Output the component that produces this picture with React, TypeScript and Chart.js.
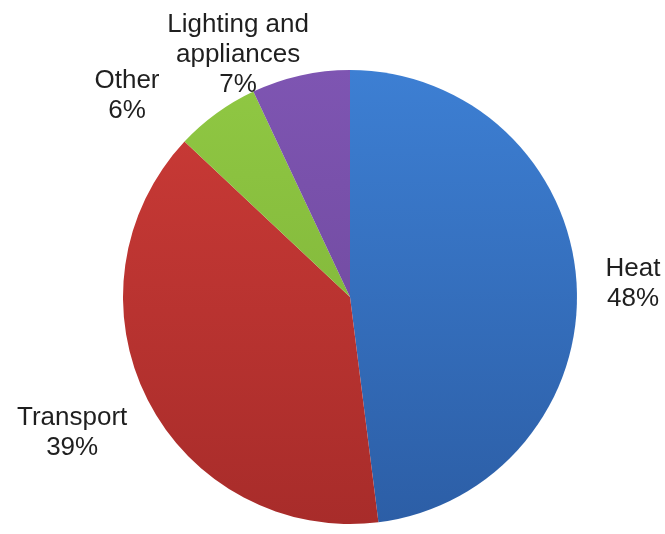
import React, { useEffect, useRef } from "react";
import { Chart, registerables } from "chart.js";

Chart.register(...registerables);

const categories = ["Heat", "Transport", "Other", "Lighting and appliances"];
const shares = [48, 39, 6, 7];
const labelLines = [["Heat"], ["Transport"], ["Other"], ["Lighting and", "appliances"]];
const topColors = ["#3d7fd3", "#cc3b37", "#90c843", "#7e55b2"];
const bottomColors = ["#2c5ea6", "#a82c2a", "#7aae36", "#6a4596"];

// label placement relative to each slice: angular shift (deg) and radius factor
const labelShift = [1, 0.9, -12, -12.2];
const labelRadius = [1.248, 1.363, 1.322, 1.175];

const outsideLabels = {
  id: "outsideLabels",
  afterDatasetsDraw(chart: any) {
    const ctx = chart.ctx;
    const meta = chart.getDatasetMeta(0);
    ctx.save();
    ctx.font = '26px "Liberation Sans", Arial, sans-serif';
    ctx.fillStyle = "#1f1f1f";
    ctx.textAlign = "center";
    ctx.textBaseline = "middle";
    const lineH = 30;
    meta.data.forEach((arc: any, i: number) => {
      const p = arc.getProps(["x", "y", "startAngle", "endAngle", "outerRadius"], true);
      const a = (p.startAngle + p.endAngle) / 2 + (labelShift[i] * Math.PI) / 180;
      const r = p.outerRadius * labelRadius[i];
      const cx = p.x + Math.cos(a) * r;
      const cy = p.y + Math.sin(a) * r;
      const lines = [...labelLines[i], shares[i] + "%"];
      const y0 = cy - ((lines.length - 1) * lineH) / 2;
      lines.forEach((t, k) => ctx.fillText(t, cx, y0 + k * lineH));
    });
    ctx.restore();
  },
};

export default function App() {
  const ref = useRef<HTMLCanvasElement | null>(null);
  useEffect(() => {
    if (!ref.current) return;
    const chart = new Chart(ref.current, {
      type: "pie",
      data: {
        labels: categories,
        datasets: [
          {
            data: shares,
            backgroundColor: (c: any) => {
              const area = c.chart.chartArea;
              const i = c.dataIndex;
              if (!area || i === undefined) return topColors[i ?? 0];
              const g = c.chart.ctx.createLinearGradient(0, area.top, 0, area.bottom);
              g.addColorStop(0, topColors[i]);
              g.addColorStop(1, bottomColors[i]);
              return g;
            },
            borderWidth: 0,
          },
        ],
      },
      options: {
        animation: false,
        responsive: true,
        maintainAspectRatio: false,
        layout: { padding: { left: 123, right: 88, top: 70, bottom: 10 } },
        plugins: { legend: { display: false }, tooltip: { enabled: false } },
      },
      plugins: [outsideLabels],
    });
    return () => chart.destroy();
  }, []);
  return (
    <div style={{ position: "fixed", left: 0, top: 0, width: 665, height: 534, background: "#fff" }}>
      <canvas ref={ref} />
    </div>
  );
}
